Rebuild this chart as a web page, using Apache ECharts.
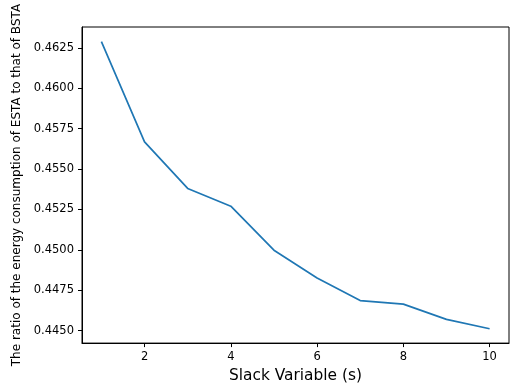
<!DOCTYPE html>
<html>
<head>
<meta charset="utf-8">
<script src="https://cdn.jsdelivr.net/npm/echarts@6/dist/echarts.min.js"></script>
<style>html,body{margin:0;padding:0;background:#fff;}#c{width:513px;height:388px;}</style>
</head>
<body>
<div id="c"></div>
<script>
const slack = [1, 2, 3, 4, 5, 6, 7, 8, 9, 10];
const ratio = [0.46289, 0.45668, 0.45380, 0.45270, 0.44998, 0.44826, 0.44686, 0.44664, 0.44570, 0.44512];
const xTicks = [2, 4, 6, 8, 10];
const yTicks = [0.4450, 0.4475, 0.4500, 0.4525, 0.4550, 0.4575, 0.4600, 0.4625];

const chart = echarts.init(document.getElementById('c'), null, {renderer: 'canvas'});
const font = 'DejaVu Sans';
chart.setOption({
  animation: false,
  backgroundColor: '#fff',
  grid: {left: 82, top: 27, right: 4, bottom: 43, show: true, borderColor: '#000', borderWidth: 1, backgroundColor: 'transparent'},
  xAxis: {
    type: 'value', min: 0.55, max: 10.45,
    name: 'Slack Variable (s)', nameLocation: 'middle', nameGap: 23,
    nameTextStyle: {fontFamily: font, fontSize: 15.4, color: '#000'},
    axisLine: {show: true, lineStyle: {color: '#000', width: 1}},
    axisTick: {show: true, inside: false, length: 4, lineStyle: {color: '#000', width: 1}, customValues: xTicks},
    axisLabel: {fontFamily: font, fontSize: 11.5, color: '#000', margin: 8, customValues: xTicks, formatter: v => String(v)},
    splitLine: {show: false}
  },
  yAxis: {
    type: 'value', min: 0.44423, max: 0.46379,
    name: 'The ratio of the energy consumption of ESTA to that of BSTA', nameLocation: 'middle', nameGap: 55,
    nameTextStyle: {fontFamily: font, fontSize: 12, color: '#000'},
    axisLine: {show: true, lineStyle: {color: '#000', width: 1}},
    axisTick: {show: true, inside: false, length: 4, lineStyle: {color: '#000', width: 1}, customValues: yTicks},
    axisLabel: {fontFamily: font, fontSize: 11.5, color: '#000', margin: 8, customValues: yTicks, formatter: v => v.toFixed(4)},
    splitLine: {show: false}
  },
  series: [{
    type: 'line',
    data: slack.map((x, i) => [x, ratio[i]]),
    showSymbol: false,
    symbol: 'none',
    lineStyle: {color: '#1f77b4', width: 1.7},
    itemStyle: {color: '#1f77b4'}
  }]
});
</script>
</body>
</html>
